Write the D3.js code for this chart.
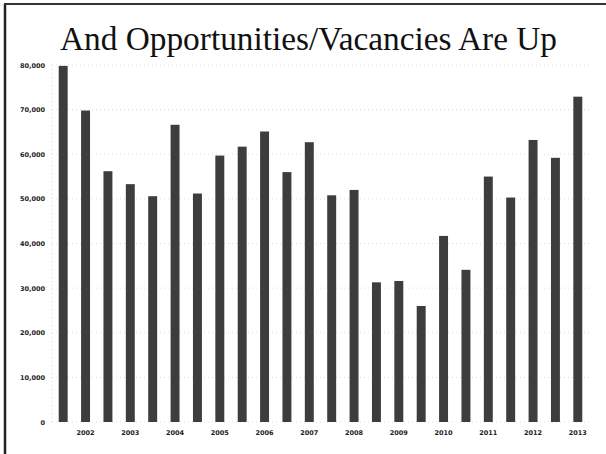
<!DOCTYPE html>
<meta charset="utf-8">
<title>And Opportunities/Vacancies Are Up</title>
<style>
  body { margin: 0; background: #fff; }
  svg { display: block; }
</style>
<body>
<script src="https://d3js.org/d3.v7.min.js"></script>
<script>

// half-year periods, two bars per year label
var periods = ["2001b","2002a","2002b","2003a","2003b","2004a","2004b","2005a",
               "2005b","2006a","2006b","2007a","2007b","2008a","2008b","2009a",
               "2009b","2010a","2010b","2011a","2011b","2012a","2012b","2013a"];
var vacancies = [79800, 69800, 56200, 53300, 50600, 66600, 51200, 59700,
                 61700, 65100, 56000, 62700, 50800, 52000, 31300, 31600,
                 26000, 41700, 34100, 55000, 50300, 63200, 59200, 72900];
var yearLabels = ["2002","2003","2004","2005","2006","2007","2008",
                  "2009","2010","2011","2012","2013"];
var yTicks = [0, 10000, 20000, 30000, 40000, 50000, 60000, 70000, 80000];

var width = 606,
    height = 454;

var svg = d3.select("body").append("svg")
  .attr("width", width)
  .attr("height", height);

// slide frame (scanned page edge)
svg.append("line")
  .attr("x1", 5).attr("x2", 5).attr("y1", 4).attr("y2", height)
  .attr("stroke", "#222").attr("stroke-width", 2.5);
svg.append("line")
  .attr("x1", 4).attr("x2", width).attr("y1", 4).attr("y2", 4)
  .attr("stroke", "#333").attr("stroke-width", 2);

svg.append("text")
  .attr("x", 60)
  .attr("y", 50)
  .attr("textLength", 497)
  .attr("lengthAdjust", "spacingAndGlyphs")
  .style("font-family", "'Liberation Serif', 'DejaVu Serif', serif")
  .style("font-size", "33px")
  .attr("fill", "#111")
  .text("And Opportunities/Vacancies Are Up");

var x = d3.scaleBand()
  .domain(periods)
  .range([52, 589])
  .paddingInner(0.6)
  .paddingOuter(0.3);

var y = d3.scaleLinear()
  .domain([0, 80000])
  .range([422, 65]);

// gridlines
svg.append("g")
  .selectAll("line")
  .data(yTicks)
  .join("line")
  .attr("x1", 52).attr("x2", 589)
  .attr("y1", d => y(d)).attr("y2", d => y(d))
  .attr("stroke", "#d4d4d4")
  .attr("stroke-width", 0.8)
  .attr("stroke-dasharray", "1,3");

svg.append("line")
  .attr("x1", 52).attr("x2", 52)
  .attr("y1", y(80000)).attr("y2", y(0))
  .attr("stroke", "#d0d0d0")
  .attr("stroke-width", 0.8)
  .attr("stroke-dasharray", "1,3");

// y axis labels
var yAxis = d3.axisLeft(y)
  .tickValues(yTicks)
  .tickFormat(d3.format(","))
  .tickSize(0)
  .tickPadding(7);

svg.append("g")
  .attr("transform", "translate(45,0)")
  .call(yAxis)
  .call(g => g.select(".domain").remove())
  .selectAll("text")
  .attr("x", 0)
  .style("font-family", "'DejaVu Sans', sans-serif")
  .style("font-size", "6.5px")
  .style("font-weight", "bold")
  .attr("fill", "#222");

// x axis labels, one per year under the second bar of each pair
var xAxis = d3.axisBottom(x)
  .tickValues(periods.filter((p, i) => i % 2 === 1))
  .tickFormat((p, i) => yearLabels[i])
  .tickSize(0)
  .tickPadding(8);

svg.append("g")
  .attr("transform", "translate(0,422)")
  .call(xAxis)
  .call(g => g.select(".domain").remove())
  .selectAll("text")
  .style("font-family", "'DejaVu Sans', sans-serif")
  .style("font-size", "6.5px")
  .style("font-weight", "bold")
  .attr("fill", "#222");

// bars
svg.append("g")
  .selectAll("rect")
  .data(vacancies)
  .join("rect")
  .attr("x", (d, i) => x(periods[i]))
  .attr("y", d => y(d))
  .attr("width", x.bandwidth())
  .attr("height", d => y(0) - y(d))
  .attr("fill", "#3d3d3d");

</script>
</body>
